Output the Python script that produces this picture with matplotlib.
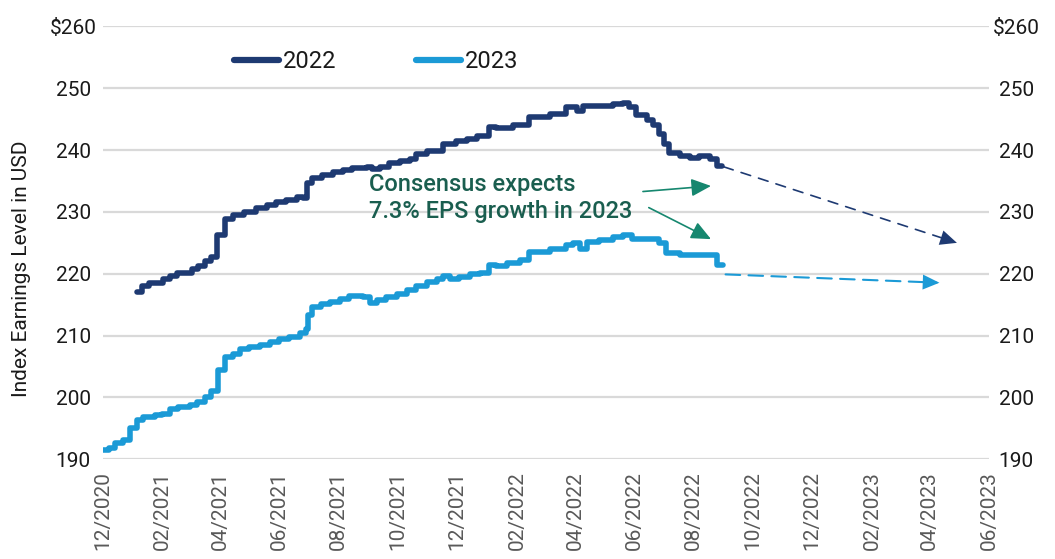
import matplotlib
matplotlib.use("Agg")
import matplotlib.pyplot as plt
import matplotlib.dates as mdates
import pandas as pd

plt.rcParams['font.family'] = ['Roboto', 'DejaVu Sans']

# ---------------- data ----------------
dates_2022 = ["2021-01-05", "2021-01-11", "2021-01-18", "2021-02-01", "2021-02-08", "2021-02-16",
              "2021-03-03", "2021-03-09", "2021-03-16", "2021-03-23", "2021-03-29", "2021-04-06",
              "2021-04-14", "2021-04-26", "2021-05-08", "2021-05-19", "2021-05-29", "2021-06-08",
              "2021-06-19", "2021-06-25", "2021-06-29", "2021-07-05", "2021-07-15", "2021-07-26",
              "2021-08-05", "2021-08-15", "2021-08-30", "2021-09-04", "2021-09-12", "2021-09-22",
              "2021-10-03", "2021-10-13", "2021-10-20", "2021-10-31", "2021-11-16", "2021-11-30",
              "2021-12-11", "2021-12-21", "2022-01-03", "2022-01-10", "2022-01-27", "2022-02-13",
              "2022-03-06", "2022-03-23", "2022-04-03", "2022-04-09", "2022-04-26", "2022-05-10",
              "2022-05-20", "2022-05-27", "2022-06-03", "2022-06-14", "2022-06-20", "2022-06-27",
              "2022-07-02", "2022-07-07", "2022-07-18", "2022-07-28", "2022-08-07", "2022-08-18",
              "2022-08-25", "2022-08-30"]
eps_2022 = [217.1, 218.1, 218.5, 219.2, 219.7, 220.2,
            220.8, 221.2, 222.0, 222.7, 226.2, 228.9,
            229.5, 230.0, 230.6, 231.1, 231.6, 232.0,
            232.4, 232.2, 234.7, 235.5, 236.0, 236.5,
            236.8, 237.1, 237.3, 236.9, 237.3, 237.9,
            238.3, 238.6, 239.4, 239.9, 241.0, 241.4,
            241.8, 242.3, 243.7, 243.5, 244.1, 245.3,
            245.8, 246.9, 246.4, 247.1, 247.2, 247.4,
            247.6, 246.9, 245.6, 244.8, 244.0, 242.6,
            241.0, 239.6, 239.1, 238.8, 239.1, 238.6,
            237.5, 237.5]

dates_2023 = ["2020-12-01", "2020-12-08", "2020-12-14", "2020-12-22", "2020-12-29", "2021-01-05",
              "2021-01-12", "2021-01-24", "2021-01-31", "2021-02-08", "2021-02-17", "2021-03-01",
              "2021-03-08", "2021-03-16", "2021-03-23", "2021-03-30", "2021-04-06", "2021-04-14",
              "2021-04-21", "2021-05-01", "2021-05-12", "2021-05-22", "2021-06-01", "2021-06-11",
              "2021-06-22", "2021-06-28", "2021-06-30", "2021-07-05", "2021-07-14", "2021-07-23",
              "2021-08-02", "2021-08-12", "2021-08-26", "2021-09-02", "2021-09-09", "2021-09-19",
              "2021-09-30", "2021-10-10", "2021-10-20", "2021-10-31", "2021-11-10", "2021-11-16",
              "2021-11-23", "2021-12-03", "2021-12-14", "2021-12-24", "2022-01-03", "2022-01-10",
              "2022-01-21", "2022-02-03", "2022-02-13", "2022-03-06", "2022-03-23", "2022-03-30",
              "2022-04-06", "2022-04-13", "2022-04-26", "2022-05-10", "2022-05-20", "2022-05-30",
              "2022-06-14", "2022-06-27", "2022-07-04", "2022-07-18", "2022-07-31", "2022-08-21",
              "2022-08-25", "2022-08-31"]
eps_2023 = [191.5, 191.9, 192.6, 193.2, 195.0, 196.4,
            196.9, 197.2, 197.4, 198.1, 198.4, 198.8,
            199.3, 200.1, 201.1, 204.4, 206.6, 207.1,
            207.8, 208.2, 208.5, 208.9, 209.4, 209.8,
            210.4, 211.0, 213.4, 214.7, 215.1, 215.5,
            216.0, 216.4, 216.3, 215.3, 215.8, 216.3,
            216.8, 217.4, 218.0, 218.6, 219.1, 219.6,
            219.1, 219.4, 220.0, 220.2, 221.4, 221.2,
            221.8, 222.3, 223.6, 224.0, 224.6, 224.9,
            224.0, 225.2, 225.5, 226.0, 226.3, 225.7,
            225.6, 224.9, 223.3, 223.0, 223.0, 223.0,
            221.4, 221.4]

# projected paths (dashed arrows): start -> tip
proj_2022_dates = ["2022-09-01", "2023-04-29"]
proj_2022_vals = [237.3, 225.0]
proj_2023_dates = ["2022-09-03", "2023-04-11"]
proj_2023_vals = [219.9, 218.55]

# annotation arrows (start -> tip)
note_arrow1_dates = ["2022-06-10", "2022-08-19"]
note_arrow1_vals = [233.3, 234.2]
note_arrow2_dates = ["2022-06-16", "2022-08-19"]
note_arrow2_vals = [230.7, 225.6]
note_text = "Consensus expects\n7.3% EPS growth in 2023"
note_pos_date = "2021-09-01"
note_pos_val = 232.3

y_ticks = [190, 200, 210, 220, 230, 240, 250, 260]
y_labels = ["190", "200", "210", "220", "230", "240", "250", "$260"]
x_ticks = ["2020-12-01", "2021-02-01", "2021-04-01", "2021-06-01", "2021-08-01", "2021-10-01",
           "2021-12-01", "2022-02-01", "2022-04-01", "2022-06-01", "2022-08-01", "2022-10-01",
           "2022-12-01", "2023-02-01", "2023-04-01", "2023-06-01"]

NAVY = "#1E3A72"
LIGHT = "#1B9AD6"
GREEN_TXT = "#1A5E4F"
GREEN_ARW = "#16876F"
GRID = "#D9D9D9"

fig = plt.figure(figsize=(10.55, 5.59), dpi=100)
ax = fig.add_axes([102.5 / 1055, (559 - 459.3) / 559, (989 - 102.5) / 1055, (459.3 - 26.4) / 559])

d22 = pd.to_datetime(dates_2022)
d23 = pd.to_datetime(dates_2023)
ax.plot(d22, eps_2022, color=NAVY, lw=4.0, drawstyle='steps-post',
        solid_capstyle='round', solid_joinstyle='round', label='2022', zorder=3)
ax.plot(d23, eps_2023, color=LIGHT, lw=4.0, drawstyle='steps-post',
        solid_capstyle='round', solid_joinstyle='round', label='2023', zorder=3)


def dashed_arrow(dates, vals, color, lw, dash, head):
    p = mdates.date2num(pd.to_datetime(dates))
    # dashed shaft
    ax.annotate("", xy=(p[1], vals[1]), xytext=(p[0], vals[0]),
                arrowprops=dict(arrowstyle='-', color=color, lw=lw, linestyle=(0, dash),
                                shrinkA=0, shrinkB=2),
                zorder=2)
    # solid filled head
    ax.annotate("", xy=(p[1], vals[1]), xytext=(p[0], vals[0]),
                arrowprops=dict(arrowstyle=head, color=color, lw=0,
                                shrinkA=0, shrinkB=0, mutation_scale=12),
                zorder=2)


dashed_arrow(proj_2022_dates, proj_2022_vals, NAVY, 1.2, (6, 5), '-|>,head_length=1.0,head_width=0.45')
dashed_arrow(proj_2023_dates, proj_2023_vals, LIGHT, 1.5, (7, 4), '-|>,head_length=1.0,head_width=0.45')

for dts, vals in [(note_arrow1_dates, note_arrow1_vals), (note_arrow2_dates, note_arrow2_vals)]:
    p = mdates.date2num(pd.to_datetime(dts))
    ax.annotate("", xy=(p[1], vals[1]), xytext=(p[0], vals[0]),
                arrowprops=dict(arrowstyle='-|>,head_length=1.0,head_width=0.45', color=GREEN_ARW,
                                lw=1.2, shrinkA=0, shrinkB=0, mutation_scale=12), zorder=2)

ax.text(mdates.date2num(pd.Timestamp(note_pos_date)), note_pos_val, note_text, color=GREEN_TXT,
        fontsize=17, fontweight='medium', ha='left', va='center', linespacing=1.2)

ax.set_ylim(190, 260)
ax.set_xlim(pd.Timestamp(x_ticks[0]), pd.Timestamp(x_ticks[-1]))
ax.set_yticks(y_ticks)
ax.set_yticklabels(y_labels)
ax.set_xticks(pd.to_datetime(x_ticks))
ax.xaxis.set_major_formatter(mdates.DateFormatter('%m/%Y'))
ax.grid(axis='y', color=GRID, lw=1.6)
ax.set_axisbelow(True)
for s in ax.spines.values():
    s.set_visible(False)
ax.tick_params(axis='y', length=0, pad=21, labelsize=15, labelcolor='#1a1a1a')
ax.tick_params(axis='x', length=0, pad=8.5, labelsize=15, labelcolor='#595959', labelrotation=90)
for lbl in ax.get_yticklabels():
    lbl.set_horizontalalignment('center')

ax2 = ax.twinx()
ax2.set_ylim(190, 260)
ax2.set_yticks(y_ticks)
ax2.set_yticklabels(y_labels)
for s in ax2.spines.values():
    s.set_visible(False)
ax2.tick_params(axis='y', length=0, pad=19.5, labelsize=15, labelcolor='#1a1a1a')
for lbl in ax2.get_yticklabels():
    lbl.set_horizontalalignment('center')

fig.text(22 / 1055, 1 - 269 / 559, "Index Earnings Level in USD", rotation=90,
         ha='center', va='center', fontsize=15, color='#1a1a1a')

leg = ax.legend(loc='center left', bbox_to_anchor=(234 / 1055, 1 - 61.7 / 559),
                bbox_transform=fig.transFigure, ncol=2, frameon=False, fontsize=17,
                handlelength=1.9, handletextpad=0.15, columnspacing=3.4, borderpad=0,
                borderaxespad=0)
for h in leg.get_lines():
    h.set_linewidth(4.5)
    h.set_solid_capstyle('round')
for t in leg.get_texts():
    t.set_color('#1a1a1a')

fig.savefig("out.png", dpi=100)
